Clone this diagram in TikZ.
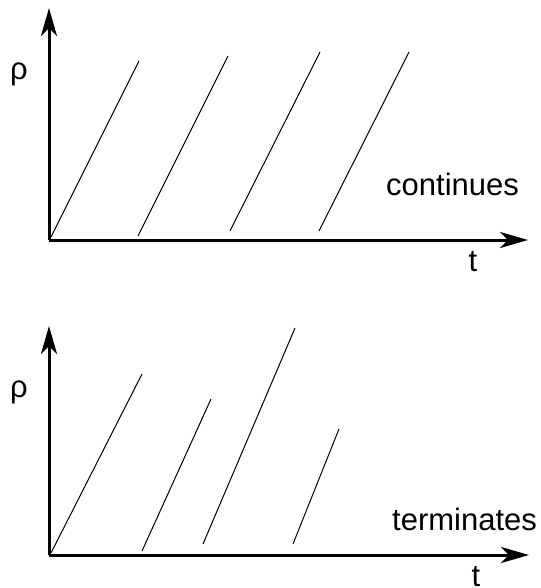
\documentclass[tikz,border=0pt]{standalone}
\usepackage{fontspec}
\setmainfont{Liberation Sans}
\usepackage{tikz}
\usetikzlibrary{arrows.meta}
\tikzset{
  >={Stealth[length=28pt,width=16pt,inset=8pt]},
  axis/.style={->,line width=3pt,color=black},
  front/.style={line width=1pt,color=black},
  lbl/.style={font=\fontsize{31}{36}\selectfont,inner sep=0pt},
}

\begin{document}
\begin{tikzpicture}[x=1pt,y=-1pt]
  \useasboundingbox (0,0) rectangle (540,588);
  % top: fronts continue
  \coordinate (oA) at (49,240);
  \coordinate (yA) at (49,8);
  \coordinate (xA) at (528,240);
  \draw[axis] (oA)--(yA); \draw[axis] (oA)--(xA);
  \node[lbl] (rhoA) at (19,74) {ρ};
  \node[lbl,anchor=base] (tA) at (473,271) {t};
  \node[lbl,anchor=base west] (contA) at (386,195) {continues};
  \foreach \i/\ax/\ay/\bx/\by in {1/51/237/139/61, 2/138/236/228/56, 3/230/231/320/52, 4/319/231/409/52}{
    \coordinate (pA\i) at (\ax,\ay);
    \coordinate (qA\i) at (\bx,\by);
    \draw[front] (pA\i)--(qA\i);
  }
  % bottom: fronts terminate
  \coordinate (oB) at (49,555);
  \coordinate (yB) at (49,326);
  \coordinate (xB) at (529,555);
  \draw[axis] (oB)--(yB); \draw[axis] (oB)--(xB);
  \node[lbl] (rhoB) at (19,392) {ρ};
  \node[lbl,anchor=base] (tB) at (476,586) {t};
  \node[lbl,anchor=base west] (termB) at (392,530) {terminates};
  \foreach \i/\ax/\ay/\bx/\by in {1/51/553/142/374, 2/142/551/211/399, 3/203/544/295/328, 4/293/544/339/429}{
    \coordinate (pB\i) at (\ax,\ay);
    \coordinate (qB\i) at (\bx,\by);
    \draw[front] (pB\i)--(qB\i);
  }
\end{tikzpicture}
\end{document}
